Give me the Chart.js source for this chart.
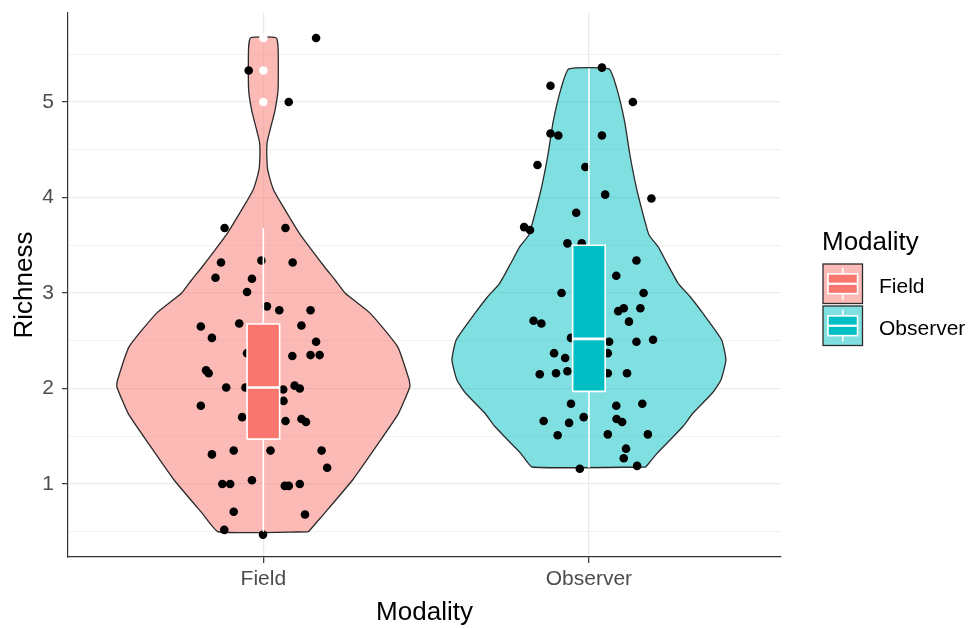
<!DOCTYPE html>
<html>
<head>
<meta charset="utf-8">
<script src="https://cdn.jsdelivr.net/npm/chart.js@4/dist/chart.umd.min.js"></script>
<style>
  html, body { margin: 0; padding: 0; background: #ffffff; }
  #wrap { width: 973px; height: 629px; }
</style>
</head>
<body>
<div id="wrap"><canvas id="chart" width="973" height="629"></canvas></div>
<script>
// ---- data ----
const categories = ['Field', 'Observer'];
const yTickValues = [1, 2, 3, 4, 5];

// violin outlines: richness level and relative width (1 = widest)
const fieldViolinLevels = [0.500, 0.693, 1.042, 1.391, 1.740, 2.019, 2.089, 2.438, 2.787, 2.997, 3.136, 3.275, 3.625, 3.904, 4.079, 4.218, 4.323, 4.568, 4.707, 4.916, 5.143, 5.562, 5.673];
const fieldViolinWidths = [0.308, 0.417, 0.609, 0.769, 0.923, 1.000, 0.995, 0.916, 0.730, 0.559, 0.490, 0.417, 0.246, 0.135, 0.070, 0.041, 0.027, 0.025, 0.046, 0.080, 0.101, 0.101, 0.087];
const observerViolinLevels = [1.178, 1.321, 1.461, 1.605, 1.743, 1.950, 2.089, 2.298, 2.508, 2.791, 2.961, 3.102, 3.311, 3.485, 3.607, 3.747, 4.096, 4.445, 4.794, 5.143, 5.346];
const observerViolinWidths = [0.388, 0.465, 0.554, 0.643, 0.711, 0.841, 0.901, 0.935, 0.906, 0.776, 0.691, 0.609, 0.533, 0.472, 0.410, 0.383, 0.325, 0.280, 0.244, 0.190, 0.137];

// box plot summaries: [lower whisker, Q1, median, Q3, upper whisker]
const fieldBox = [0.50, 1.47, 2.01, 2.675, 3.68];
const observerBox = [1.17, 1.97, 2.52, 3.50, 5.35];
const fieldOutliers = [5.00, 5.33, 5.67];
const observerOutliers = [];

// individual observations and their horizontal jitter (category units)
const fieldRichness = [5.67, 5.33, 5.00, 3.68, 3.68, 3.32, 3.34, 3.32, 3.16, 3.15, 3.01, 2.86, 2.82, 2.82, 2.65, 2.68, 2.66, 2.53, 2.49, 2.37, 2.34, 2.35, 2.35, 2.19, 2.16, 2.01, 2.01, 1.99, 2.03, 2.00, 1.87, 1.82, 1.70, 1.66, 1.68, 1.65, 1.31, 1.35, 1.35, 1.35, 1.17, 1.00, 1.00, 1.04, 0.98, 0.98, 1.00, 0.71, 0.68, 0.52, 0.47];
const fieldJitter = [0.162, -0.045, 0.078, -0.119, 0.068, -0.130, -0.006, 0.090, -0.147, -0.035, -0.050, 0.011, 0.049, 0.145, -0.192, -0.074, 0.117, -0.158, 0.162, -0.050, 0.089, 0.145, 0.173, -0.176, -0.168, -0.114, -0.055, 0.061, 0.096, 0.112, 0.062, -0.192, -0.065, 0.068, 0.117, 0.131, -0.158, -0.091, 0.022, 0.179, 0.196, -0.126, -0.102, -0.035, 0.066, 0.078, 0.112, -0.091, 0.128, -0.120, -0.001];
const observerRichness = [5.36, 5.17, 5.00, 4.67, 4.65, 4.65, 4.34, 4.32, 4.03, 3.99, 3.84, 3.69, 3.66, 3.52, 3.52, 3.34, 3.18, 3.00, 3.00, 2.81, 2.84, 2.84, 2.71, 2.68, 2.70, 2.53, 2.49, 2.49, 2.51, 2.37, 2.32, 2.37, 2.15, 2.16, 2.18, 2.16, 2.16, 1.84, 1.82, 1.84, 1.66, 1.64, 1.70, 1.68, 1.65, 1.51, 1.52, 1.52, 1.37, 1.27, 1.19, 1.16];
const observerJitter = [0.040, -0.118, 0.135, -0.118, -0.094, 0.040, -0.158, -0.011, 0.050, 0.192, -0.039, -0.199, -0.181, -0.066, -0.022, 0.146, 0.084, -0.084, 0.168, 0.090, 0.107, 0.158, -0.170, -0.146, 0.123, -0.055, 0.062, 0.146, 0.197, -0.107, -0.073, 0.058, -0.151, -0.101, -0.066, 0.058, 0.117, -0.055, 0.084, 0.164, -0.139, -0.061, -0.016, 0.085, 0.102, -0.096, 0.058, 0.181, 0.114, 0.107, 0.148, -0.028];

// ---- styling ----
const seriesColors = ['#F8766D', '#00BFC4'];
const violinFills = ['rgba(248,118,109,0.5)', 'rgba(0,191,196,0.5)'];
const FONT = "'Liberation Sans', Arial, sans-serif";
const VIOLIN_HALF = 0.45;   // half of the maximum violin width, in category units
const BOX_HALF = 0.05;      // half of the box width, in category units

const groups = [
  { pos: 1, levels: fieldViolinLevels, widths: fieldViolinWidths, box: fieldBox, outliers: fieldOutliers, values: fieldRichness, jitter: fieldJitter },
  { pos: 2, levels: observerViolinLevels, widths: observerViolinWidths, box: observerBox, outliers: observerOutliers, values: observerRichness, jitter: observerJitter }
];

function violinOutline(g) {
  const right = g.levels.map((y, i) => ({ x: g.pos + g.widths[i] * VIOLIN_HALF, y }));
  const left = g.levels.map((y, i) => ({ x: g.pos - g.widths[i] * VIOLIN_HALF, y })).reverse();
  const pts = right.concat(left);
  pts.push({ x: right[0].x, y: right[0].y });
  return pts;
}

const datasets = [];
groups.forEach((g, k) => {
  // violin body
  datasets.push({
    data: violinOutline(g), fill: 'shape', backgroundColor: violinFills[k],
    borderColor: '#2b2b2b', borderWidth: 1.3, pointRadius: 0, tension: 0.15, order: 5
  });
  // jittered observations
  datasets.push({
    data: g.values.map((v, i) => ({ x: g.pos + g.jitter[i], y: v })), showLine: false,
    pointRadius: 4.3, pointBackgroundColor: '#000000', pointBorderWidth: 0, order: 4
  });
  const [lo, q1, med, q3, hi] = g.box;
  // whiskers
  datasets.push({
    data: [{ x: g.pos, y: q3 }, { x: g.pos, y: hi }], borderColor: '#ffffff',
    borderWidth: 1.6, pointRadius: 0, order: 3
  });
  datasets.push({
    data: [{ x: g.pos, y: q1 }, { x: g.pos, y: lo }], borderColor: '#ffffff',
    borderWidth: 1.6, pointRadius: 0, order: 3
  });
  // box
  datasets.push({
    data: [
      { x: g.pos - BOX_HALF, y: q1 }, { x: g.pos + BOX_HALF, y: q1 },
      { x: g.pos + BOX_HALF, y: q3 }, { x: g.pos - BOX_HALF, y: q3 },
      { x: g.pos - BOX_HALF, y: q1 }
    ],
    fill: 'shape', backgroundColor: seriesColors[k], borderColor: '#ffffff',
    borderWidth: 1.6, borderJoinStyle: 'miter', pointRadius: 0, tension: 0, order: 2
  });
  // median
  datasets.push({
    data: [{ x: g.pos - BOX_HALF, y: med }, { x: g.pos + BOX_HALF, y: med }],
    borderColor: '#ffffff', borderWidth: 2.6, pointRadius: 0, order: 1
  });
  // outliers
  if (g.outliers.length) {
    datasets.push({
      data: g.outliers.map(v => ({ x: g.pos, y: v })), showLine: false,
      pointRadius: 4.3, pointBackgroundColor: '#ffffff', pointBorderWidth: 0, order: 0
    });
  }
});

// y grid: majors at the labelled values, minors half-way between
const yGridValues = [];
for (let v = 0.5; v <= 5.5 + 1e-9; v += 0.5) yGridValues.push(Math.round(v * 10) / 10);
const isMajor = v => yTickValues.indexOf(v) >= 0;

const legendPlugin = {
  id: 'modalityLegend',
  afterDraw(chart) {
    const ctx = chart.ctx;
    ctx.save();
    ctx.fillStyle = '#000000';
    ctx.textAlign = 'left';
    ctx.textBaseline = 'alphabetic';
    ctx.font = `26px ${FONT}`;
    ctx.fillText('Modality', 822, 250);
    const kx = 823, kw = 39.5, kh = 39.5;
    const keyTops = [264, 306];
    const labelBaselines = [293, 335];
    categories.forEach((name, k) => {
      const ky = keyTops[k];
      // violin swatch
      ctx.fillStyle = '#ffffff';
      ctx.fillRect(kx, ky, kw, kh);
      ctx.fillStyle = violinFills[k];
      ctx.fillRect(kx, ky, kw, kh);
      ctx.strokeStyle = '#2b2b2b';
      ctx.lineWidth = 1.3;
      ctx.strokeRect(kx, ky, kw, kh);
      // box plot glyph
      const cx = kx + kw / 2;
      ctx.strokeStyle = '#ffffff';
      ctx.lineWidth = 1.6;
      ctx.beginPath();
      ctx.moveTo(cx, ky + kh * 0.1); ctx.lineTo(cx, ky + kh * 0.25);
      ctx.moveTo(cx, ky + kh * 0.75); ctx.lineTo(cx, ky + kh * 0.9);
      ctx.stroke();
      ctx.fillStyle = seriesColors[k];
      ctx.fillRect(kx + kw * 0.125, ky + kh * 0.25, kw * 0.75, kh * 0.5);
      ctx.strokeRect(kx + kw * 0.125, ky + kh * 0.25, kw * 0.75, kh * 0.5);
      ctx.lineWidth = 2.2;
      ctx.beginPath();
      ctx.moveTo(kx + kw * 0.125, ky + kh * 0.5); ctx.lineTo(kx + kw * 0.875, ky + kh * 0.5);
      ctx.stroke();
      // label
      ctx.fillStyle = '#000000';
      ctx.font = `21px ${FONT}`;
      ctx.fillText(name, 879, labelBaselines[k]);
    });
    ctx.restore();
  }
};

new Chart(document.getElementById('chart'), {
  type: 'line',
  data: { datasets },
  options: {
    responsive: false,
    devicePixelRatio: 1,
    animation: false,
    events: [],
    layout: { padding: { left: 0, top: 13, right: 192, bottom: 0 } },
    plugins: { legend: { display: false }, tooltip: { enabled: false } },
    scales: {
      x: {
        type: 'linear', min: 0.4, max: 2.59,
        afterBuildTicks: s => { s.ticks = categories.map((c, i) => ({ value: i + 1 })); },
        afterFit: s => { s.height = 72; s.paddingLeft = 0; s.paddingRight = 0; },
        ticks: {
          callback: v => categories[Math.round(v) - 1], color: '#4D4D4D',
          font: { size: 21, family: FONT }, padding: 4, autoSkip: false, maxRotation: 0
        },
        grid: { color: '#EBEBEB', lineWidth: 1.3, tickColor: '#333333', tickLength: 6, tickWidth: 1.2 },
        border: { display: true, color: '#333333', width: 1.2 },
        title: { display: true, text: 'Modality', color: '#000000', font: { size: 26, family: FONT }, padding: { top: 0, bottom: 1 } }
      },
      y: {
        type: 'linear', min: 0.2356, max: 5.932,
        afterBuildTicks: s => { s.ticks = yGridValues.map(v => ({ value: v })); },
        afterFit: s => { s.width = 68; s.paddingTop = 0; s.paddingBottom = 0; },
        ticks: {
          callback: v => isMajor(v) ? String(v) : '', color: '#4D4D4D',
          font: { size: 21, family: FONT }, padding: 8, autoSkip: false
        },
        grid: {
          color: '#EBEBEB',
          lineWidth: c => isMajor(c.tick.value) ? 1.3 : 0.7,
          tickColor: c => isMajor(c.tick.value) ? '#333333' : 'rgba(0,0,0,0)',
          tickLength: 6, tickWidth: 1.2
        },
        border: { display: true, color: '#333333', width: 1.2 },
        title: { display: true, text: 'Richness', color: '#000000', font: { size: 26, family: FONT }, padding: { top: 9, bottom: 0 } }
      }
    }
  },
  plugins: [legendPlugin]
});
</script>
</body>
</html>
